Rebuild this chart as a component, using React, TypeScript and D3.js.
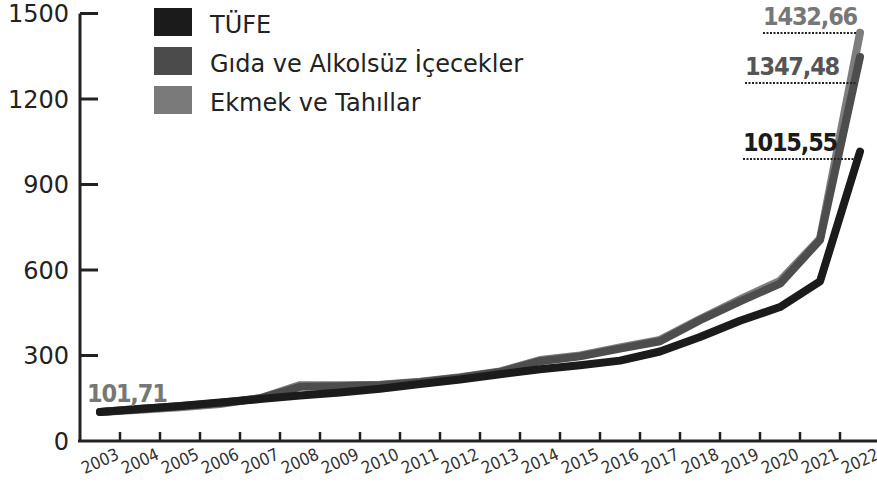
import React, { useRef, useEffect } from "react";
import * as d3 from "d3";

// values (2003 = ~100)
const years = [
  "2003", "2004", "2005", "2006", "2007", "2008", "2009", "2010", "2011", "2012",
  "2013", "2014", "2015", "2016", "2017", "2018", "2019", "2020", "2021", "2022",
];
const tufe = [
  101.71, 112, 123, 135, 147, 160, 170, 183, 200, 216,
  234, 252, 266, 282, 314, 365, 422, 470, 560, 1015.55,
];
const gida = [
  101.71, 113, 122, 133, 150, 190, 192, 196, 206, 222,
  242, 280, 297, 324, 350, 424, 490, 552, 705, 1347.48,
];
const ekmek = [
  101.71, 110, 118, 130, 150, 196, 196, 197, 208, 224,
  244, 284, 300, 328, 355, 428, 497, 562, 710, 1432.66,
];
const yTicks = [0, 300, 600, 900, 1200, 1500];

const series = [
  { name: "Ekmek ve Tahıllar", values: ekmek, color: "#7d7d7d" },
  { name: "Gıda ve Alkolsüz İçecekler", values: gida, color: "#4d4d4d" },
  { name: "TÜFE", values: tufe, color: "#1b1b1b" },
];
const legendItems = [
  { name: "TÜFE", color: "#1b1b1b" },
  { name: "Gıda ve Alkolsüz İçecekler", color: "#4b4b4b" },
  { name: "Ekmek ve Tahıllar", color: "#7a7a7a" },
];
const endLabels = [
  { text: "1432,66", color: "#777", x0: 763, lineY: 33 },
  { text: "1347,48", color: "#555", x0: 745, lineY: 83 },
  { text: "1015,55", color: "#1b1b1b", x0: 743, lineY: 159 },
];

export default function App() {
  const svgRef = useRef<SVGSVGElement>(null);

  useEffect(() => {
    const width = 877;
    const height = 482;
    const svg = d3.select(svgRef.current).attr("width", width).attr("height", height);
    svg.selectAll("*").remove();

    const x = d3.scaleBand<string>().domain(years).range([80, 880]);
    const y = d3.scaleLinear().domain([0, 1500]).range([441, 13.5]);
    const cx = (i: number) => x(years[i])! + x.bandwidth() / 2;

    // y axis
    const axisColor = "#222";
    svg.append("line")
      .attr("x1", 80).attr("x2", 80)
      .attr("y1", y(1500)).attr("y2", y(0))
      .attr("stroke", axisColor).attr("stroke-width", 3);
    svg.selectAll(".ytick")
      .data(yTicks.filter((d) => d > 0))
      .join("line")
      .attr("x1", 80).attr("x2", 98)
      .attr("y1", (d) => y(d)).attr("y2", (d) => y(d))
      .attr("stroke", axisColor).attr("stroke-width", 3);
    svg.selectAll(".ylab")
      .data(yTicks)
      .join("text")
      .attr("x", 69)
      .attr("y", (d) => y(d))
      .attr("dy", "0.36em")
      .attr("text-anchor", "end")
      .attr("font-family", "DejaVu Sans")
      .attr("font-size", 24)
      .attr("fill", "#222")
      .text((d) => String(d));

    // x axis
    svg.append("line")
      .attr("x1", 78).attr("x2", 877)
      .attr("y1", y(0)).attr("y2", y(0))
      .attr("stroke", axisColor).attr("stroke-width", 3);
    svg.selectAll(".xtick")
      .data(years.slice(1))
      .join("line")
      .attr("x1", (d) => x(d)!).attr("x2", (d) => x(d)!)
      .attr("y1", y(0)).attr("y2", y(0) - 9)
      .attr("stroke", axisColor).attr("stroke-width", 2.5);
    svg.selectAll(".xlab")
      .data(years)
      .join("text")
      .attr("transform", (d, i) => `translate(${cx(i)},${461}) rotate(-24)`)
      .attr("text-anchor", "middle")
      .attr("dy", "0.35em")
      .attr("font-family", "DejaVu Sans Condensed")
      .attr("font-size", 17)
      .attr("fill", "#333")
      .text((d) => d);

    // lines
    const line = d3.line<number>()
      .x((d, i) => cx(i))
      .y((d) => y(d));
    series.forEach((s) => {
      svg.append("path")
        .datum(s.values)
        .attr("d", line)
        .attr("fill", "none")
        .attr("stroke", s.color)
        .attr("stroke-width", 8)
        .attr("stroke-linejoin", "round")
        .attr("stroke-linecap", "round");
    });

    // legend
    const lg = svg.append("g");
    legendItems.forEach((item, i) => {
      lg.append("rect")
        .attr("x", 154).attr("y", 8 + i * 39)
        .attr("width", 38).attr("height", 28)
        .attr("fill", item.color);
      lg.append("text")
        .attr("x", 210).attr("y", 33 + i * 39)
        .attr("font-family", "DejaVu Sans")
        .attr("font-size", 24)
        .attr("fill", "#222")
        .text(item.name);
    });

    // value labels with dotted underlines
    const last = years.length - 1;
    const boldLabel = (tx: number, ty: number, txt: string, fill: string) =>
      svg.append("text")
        .attr("x", tx).attr("y", ty)
        .attr("font-family", "DejaVu Sans Condensed")
        .attr("font-weight", "bold")
        .attr("font-size", 25)
        .attr("letter-spacing", -1.2)
        .attr("fill", fill)
        .text(txt);
    endLabels.forEach((l) => {
      boldLabel(l.x0, l.lineY - 8, l.text, l.color);
      svg.append("line")
        .attr("x1", l.x0).attr("x2", cx(last) - 4)
        .attr("y1", l.lineY).attr("y2", l.lineY)
        .attr("stroke", "#222").attr("stroke-width", 2)
        .attr("stroke-dasharray", "2,1.5");
    });
    boldLabel(87, y(tufe[0]) - 10, "101,71", "#777");
  }, []);

  return (
    <svg
      ref={svgRef}
      style={{ position: "absolute", left: 0, top: 0, background: "#fff" }}
    ></svg>
  );
}
